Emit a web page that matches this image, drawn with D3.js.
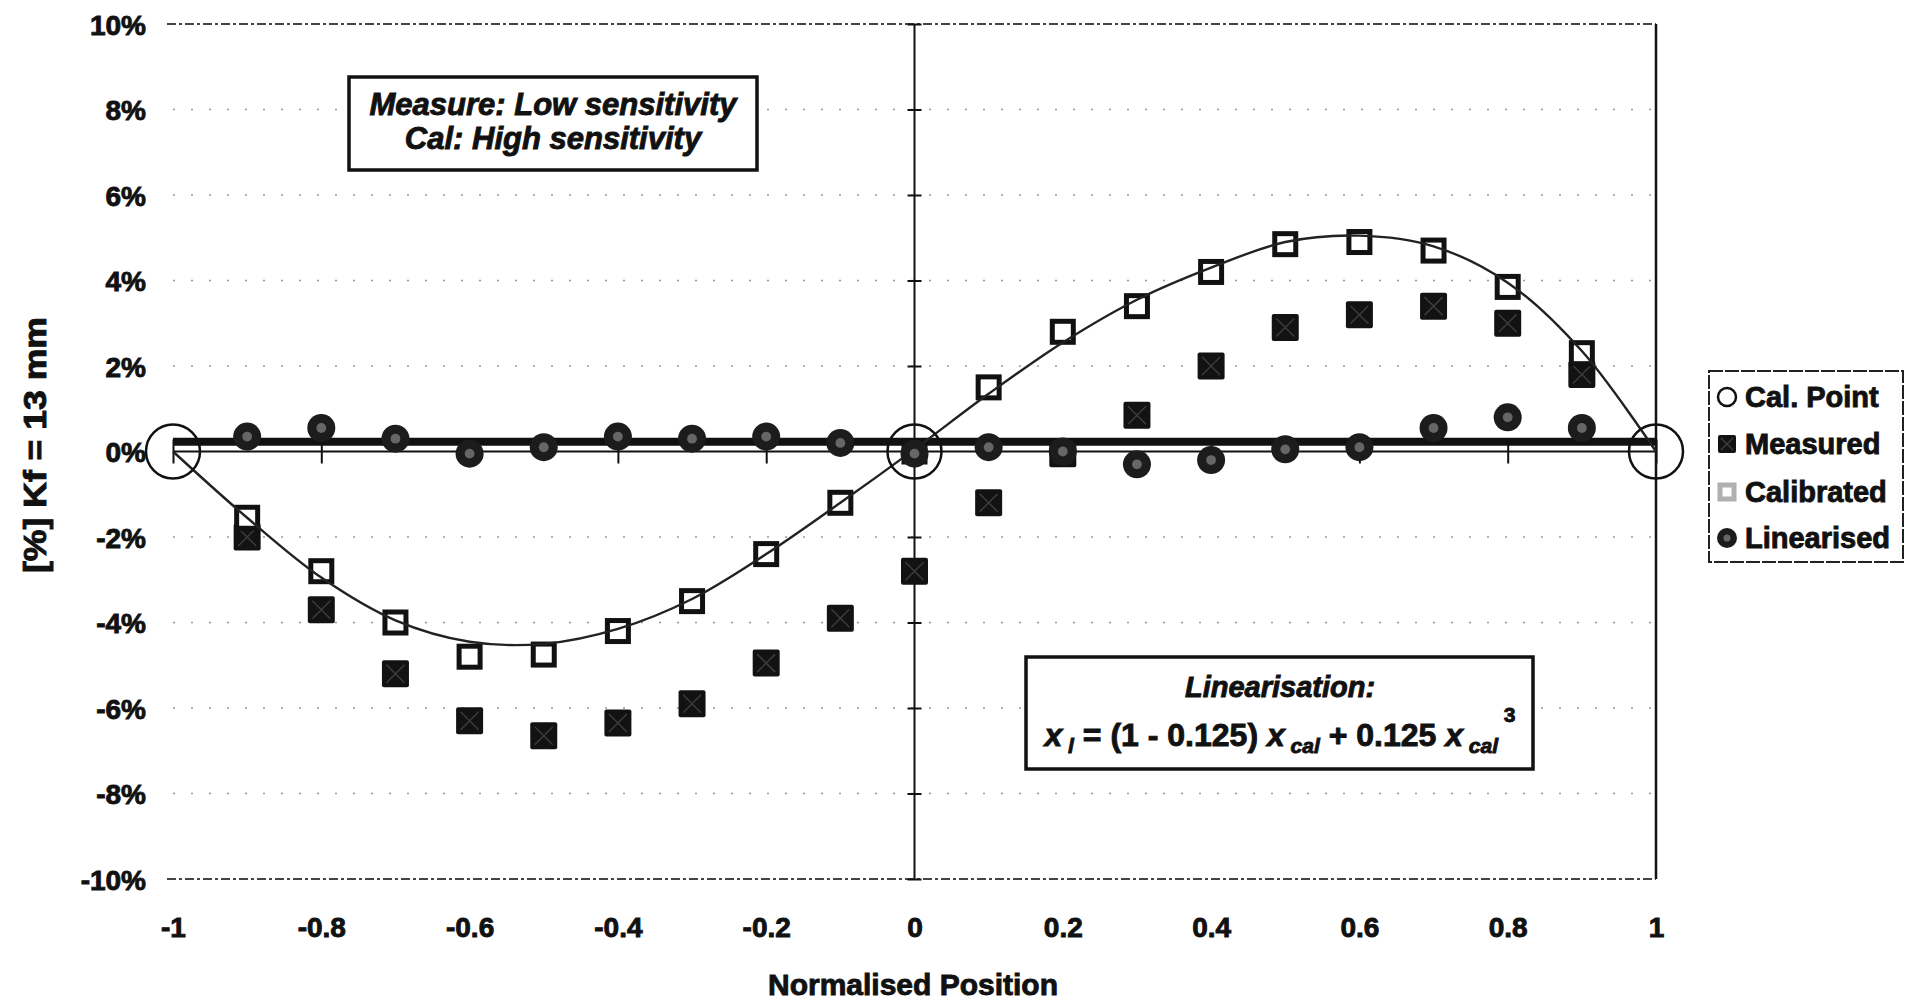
<!DOCTYPE html>
<html>
<head>
<meta charset="utf-8">
<script src="https://cdn.jsdelivr.net/npm/d3@7"></script>
<style>
  body { margin: 0; background: #fff; }
  svg text { font-family: "Liberation Sans", Arial, sans-serif; font-weight: bold; fill: #111;
             stroke: #111; stroke-width: 0.9px; paint-order: stroke; }
</style>
</head>
<body>
<svg id="chart"></svg>
<script>
// 数据：位置 -0.9 .. 0.9
const positions  = [-0.9, -0.8, -0.7, -0.6, -0.5, -0.4, -0.3, -0.2, -0.1, 0, 0.1, 0.2, 0.3, 0.4, 0.5, 0.6, 0.7, 0.8, 0.9];
const measured   = [-2.0, -3.7, -5.2, -6.3, -6.65, -6.35, -5.9, -4.95, -3.9, -2.8, -1.2, -0.05, 0.85, 2.0, 2.9, 3.2, 3.4, 3.0, 1.8];
const calibrated = [-1.55, -2.8, -4.0, -4.8, -4.75, -4.2, -3.5, -2.4, -1.2, 0.0, 1.5, 2.8, 3.4, 4.2, 4.85, 4.9, 4.7, 3.85, 2.3];
const linearised = [0.35, 0.55, 0.3, -0.05, 0.1, 0.35, 0.3, 0.35, 0.2, -0.05, 0.1, 0.0, -0.3, -0.2, 0.05, 0.1, 0.55, 0.8, 0.55];

// 标定点
const calPointX = [-1, 0, 1];
const calPointY = [0, 0, 0];

// 拟合曲线
const fitX = [-1, -0.9, -0.8, -0.7, -0.6, -0.5, -0.4, -0.3, -0.2, -0.1, 0, 0.1, 0.2, 0.3, 0.4, 0.5, 0.6, 0.7, 0.8, 0.9, 1];
const fitY = [0, -1.55, -2.95, -3.95, -4.45, -4.5, -4.15, -3.45, -2.4, -1.2, 0.05, 1.35, 2.55, 3.55, 4.3, 4.9, 5.05, 4.8, 3.95, 2.35, 0];

// 粗水平线
const trendX = [-1, 1];
const trendY = [0.23, 0.23];

const yTicks = [-10, -8, -6, -4, -2, 0, 2, 4, 6, 8, 10];
const xTicks = [-1, -0.8, -0.6, -0.4, -0.2, 0, 0.2, 0.4, 0.6, 0.8, 1];
const legendItems = ["Cal. Point", "Measured", "Calibrated", "Linearised"];

const W = 1913, H = 1004;
const svg = d3.select("#chart").attr("width", W).attr("height", H);

const xScale = d3.scaleLinear().domain([-1, 1]).range([173, 1656]);
const yScale = d3.scaleLinear().domain([-10, 10]).range([879, 24]);

//网格线
svg.append("g").selectAll("line")
  .data(yTicks.filter(d => d !== 0 && Math.abs(d) !== 10))
  .enter().append("line")
  .attr("x1", xScale(-1)).attr("x2", xScale(1))
  .attr("y1", d => yScale(d)).attr("y2", d => yScale(d))
  .style("stroke", "#999").style("stroke-width", 1.5)
  .style("stroke-dasharray", "2,16");

// 上下边框（虚线）和右边框
[10, -10].forEach(v => {
  svg.append("line")
    .attr("x1", xScale(-1) - 6).attr("x2", xScale(1))
    .attr("y1", yScale(v)).attr("y2", yScale(v))
    .style("stroke", "#444").style("stroke-width", 2)
    .style("stroke-dasharray", "9,3,3,3");
});
svg.append("line")
  .attr("x1", xScale(1)).attr("x2", xScale(1))
  .attr("y1", yScale(10)).attr("y2", yScale(-10))
  .style("stroke", "#111").style("stroke-width", 2.5);

// 坐标轴标签
const yLabelAxis = d3.axisLeft(yScale).tickValues(yTicks)
  .tickSize(0).tickPadding(0).tickFormat(d => d + "%");
const gyl = svg.append("g").attr("transform", "translate(146,0)").call(yLabelAxis);
gyl.select(".domain").remove();
gyl.selectAll("text").style("font-size", "28px").attr("dy", "0.36em");

const xLabelAxis = d3.axisBottom(xScale).tickValues(xTicks)
  .tickSize(0).tickPadding(0).tickFormat(d => String(+d.toFixed(1)));
const gxl = svg.append("g").attr("transform", "translate(0,917)").call(xLabelAxis);
gxl.select(".domain").remove();
gxl.selectAll("text").style("font-size", "28px").attr("dy", "0.71em");

// y 轴（x=0）
const yAxis = d3.axisLeft(yScale).tickValues(yTicks).tickSize(7).tickFormat("");
const gy = svg.append("g").attr("transform", `translate(${xScale(0)},0)`).call(yAxis);
gy.select(".domain").attr("d", `M0,${yScale(10)}V${yScale(-10)}`).style("stroke", "#111").style("stroke-width", 2);
gy.selectAll(".tick line").attr("x1", 7).style("stroke", "#111").style("stroke-width", 2);

// x 轴（y=0）
const xAxis = d3.axisBottom(xScale).tickValues(xTicks).tickSize(12).tickFormat("");
const gx = svg.append("g").attr("transform", `translate(0,${yScale(0)})`).call(xAxis);
gx.select(".domain").attr("d", `M${xScale(-1)},0H${xScale(1)}`).style("stroke", "#111").style("stroke-width", 2);
gx.selectAll(".tick line").attr("y1", -12).style("stroke", "#111").style("stroke-width", 2);

// 粗线
svg.append("path")
  .datum(trendX.map((x, i) => [x, trendY[i]]))
  .attr("d", d3.line().x(d => xScale(d[0])).y(d => yScale(d[1])))
  .style("stroke", "#111").style("stroke-width", 8).style("fill", "none");

// 测量点：黑色方块 + X
function drawMeasured(g, cx, cy, s) {
  g.append("rect").attr("x", cx - s / 2).attr("y", cy - s / 2).attr("width", s).attr("height", s)
    .attr("rx", 2).style("fill", "#121212");
  g.append("path")
    .attr("d", `M${cx - s / 3},${cy - s / 3}L${cx + s / 3},${cy + s / 3}M${cx + s / 3},${cy - s / 3}L${cx - s / 3},${cy + s / 3}`)
    .style("stroke", "#3c3c3c").style("stroke-width", 1.5);
}
function drawCalibrated(g, cx, cy, s, color) {
  g.append("rect").attr("x", cx - s / 2).attr("y", cy - s / 2).attr("width", s).attr("height", s)
    .style("fill", "#fff").style("stroke", color).style("stroke-width", 5);
}
function drawLinearised(g, cx, cy, r) {
  g.append("circle").attr("cx", cx).attr("cy", cy).attr("r", r).style("fill", "#1c1c1c");
  g.append("circle").attr("cx", cx).attr("cy", cy).attr("r", r * 0.35).style("fill", "#666");
}

const gm = svg.append("g").attr("class", "measured");
positions.forEach((x, i) => drawMeasured(gm, xScale(x), yScale(measured[i]), 27));

const gc = svg.append("g").attr("class", "calibrated");
positions.forEach((x, i) => drawCalibrated(gc, xScale(x), yScale(calibrated[i]), 21, "#111"));

// 拟合曲线
svg.append("path")
  .datum(fitX.map((x, i) => [x, fitY[i]]))
  .attr("d", d3.line().curve(d3.curveCatmullRom).x(d => xScale(d[0])).y(d => yScale(d[1])))
  .style("stroke", "#222").style("stroke-width", 2.4).style("fill", "none");

const gl = svg.append("g").attr("class", "linearised");
positions.forEach((x, i) => drawLinearised(gl, xScale(x), yScale(linearised[i]), 14));

// 标定点大圆
svg.append("g").selectAll("circle")
  .data(calPointX.map((x, i) => [x, calPointY[i]]))
  .enter().append("circle")
  .attr("cx", d => xScale(d[0])).attr("cy", d => yScale(d[1]))
  .attr("r", 27)
  .style("fill", "none").style("stroke", "#111").style("stroke-width", 2.5);

// 轴标题
svg.append("text")
  .attr("transform", "translate(46,445) rotate(-90)")
  .attr("text-anchor", "middle")
  .attr("textLength", 256).attr("lengthAdjust", "spacingAndGlyphs")
  .style("font-size", "31px")
  .text("[%] Kf = 13 mm");

svg.append("text")
  .attr("x", 913).attr("y", 995)
  .attr("text-anchor", "middle")
  .style("font-size", "30px")
  .text("Normalised Position");

// 注释框 1
svg.append("rect").attr("x", 349).attr("y", 77).attr("width", 408).attr("height", 93)
  .style("fill", "#fff").style("stroke", "#111").style("stroke-width", 3.5);
svg.append("text").attr("x", 553).attr("y", 115).attr("text-anchor", "middle")
  .style("font-size", "31px").style("font-style", "italic")
  .text("Measure: Low sensitivity");
svg.append("text").attr("x", 553).attr("y", 149).attr("text-anchor", "middle")
  .style("font-size", "31px").style("font-style", "italic")
  .text("Cal: High sensitivity");

// 注释框 2
svg.append("rect").attr("x", 1026).attr("y", 657).attr("width", 507).attr("height", 112)
  .style("fill", "#fff").style("stroke", "#111").style("stroke-width", 3.5);
svg.append("text").attr("x", 1280).attr("y", 697).attr("text-anchor", "middle")
  .style("font-size", "29px").style("font-style", "italic")
  .text("Linearisation:");
const eq = svg.append("text").attr("x", 1280).attr("y", 746).attr("text-anchor", "middle")
  .style("font-size", "32px");
eq.append("tspan").style("font-style", "italic").text("x");
eq.append("tspan").style("font-style", "italic").style("font-size", "21px").attr("dy", 7).text(" l");
eq.append("tspan").attr("dy", -7).text(" = (1 - 0.125) ");
eq.append("tspan").style("font-style", "italic").text("x");
eq.append("tspan").style("font-style", "italic").style("font-size", "21px").attr("dy", 7).text(" cal");
eq.append("tspan").attr("dy", -7).text("  + 0.125 ");
eq.append("tspan").style("font-style", "italic").text("x");
eq.append("tspan").style("font-style", "italic").style("font-size", "21px").attr("dy", 7).text(" cal");
eq.append("tspan").style("font-size", "21px").attr("dy", -31).text("  3");

// 图例
svg.append("rect").attr("x", 1709).attr("y", 371).attr("width", 194).attr("height", 191)
  .style("fill", "#fff").style("stroke", "#222").style("stroke-width", 2)
  .style("stroke-dasharray", "14,2");
const legendY = [397, 444, 492, 538];
legendItems.forEach((name, i) => {
  const cy = legendY[i], cx = 1727;
  if (i === 0) {
    svg.append("circle").attr("cx", cx).attr("cy", cy).attr("r", 9)
      .style("fill", "#fff").style("stroke", "#111").style("stroke-width", 2.5);
  } else if (i === 1) {
    drawMeasured(svg, cx, cy, 18);
  } else if (i === 2) {
    drawCalibrated(svg, cx, cy, 14, "#b0b0b0");
  } else {
    drawLinearised(svg, cx, cy, 10);
  }
  svg.append("text").attr("x", 1745).attr("y", cy).attr("dy", "0.36em")
    .style("font-size", "29px").text(name);
});
</script>
</body>
</html>
